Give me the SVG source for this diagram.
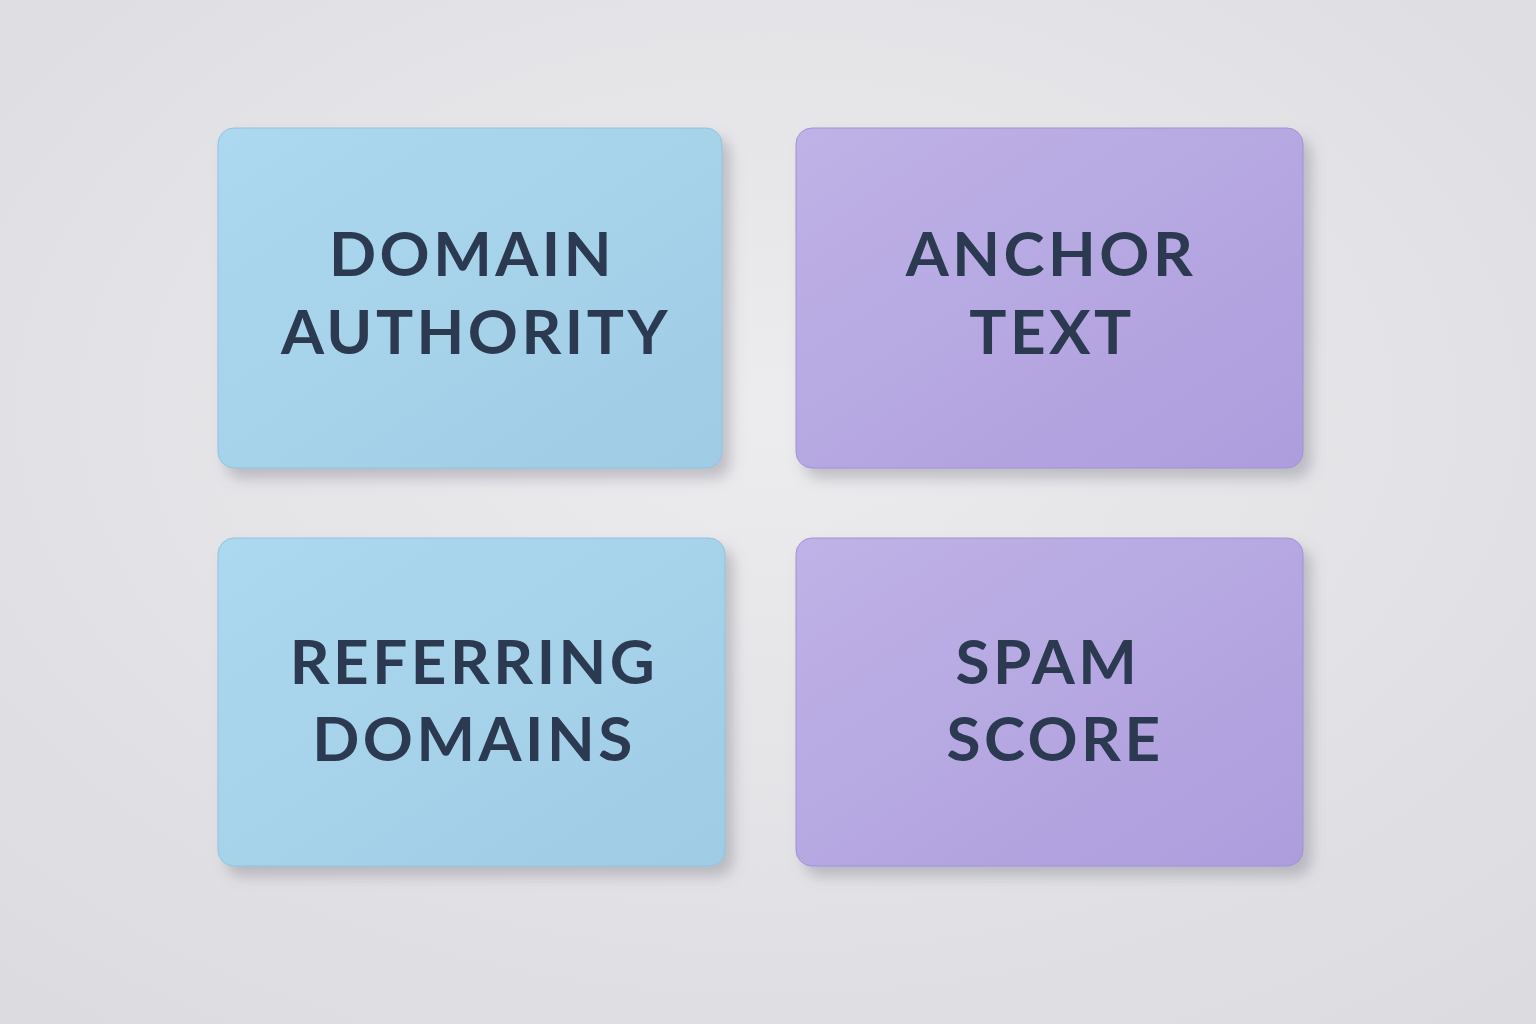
<svg xmlns="http://www.w3.org/2000/svg" width="1536" height="1024" viewBox="0 0 1536 1024">
<defs>
<radialGradient id="bg" cx="50%" cy="40%" r="75%"><stop offset="0" stop-color="#ececef"/><stop offset="1" stop-color="#dcdce0"/></radialGradient>
<linearGradient id="blue" x1="0" y1="0" x2="1" y2="1"><stop offset="0" stop-color="#acd9ef"/><stop offset="1" stop-color="#a0cbe5"/></linearGradient>
<linearGradient id="purple" x1="0" y1="0" x2="1" y2="1"><stop offset="0" stop-color="#bfb2e6"/><stop offset="1" stop-color="#ad9ddd"/></linearGradient>
<filter id="sh" x="-10%" y="-10%" width="130%" height="130%"><feDropShadow dx="8" dy="10" stdDeviation="7" flood-color="#6a6a78" flood-opacity="0.35"/></filter>
</defs>
<style>
.t{font-family:"Lato","Liberation Sans",sans-serif;font-weight:700;font-size:62px;fill:#2b3a50;text-anchor:middle;letter-spacing:3.5px}
.b{fill:url(#blue);filter:url(#sh);stroke:#8fc3df;stroke-width:1}
.p{fill:url(#purple);filter:url(#sh);stroke:#a292d6;stroke-width:1}
</style>
<rect width="1536" height="1024" fill="url(#bg)"/>
<g id="domain-authority"><rect class="b" x="218" y="128" width="504" height="340" rx="16"/><text class="t" x="472" y="276">DOMAIN</text><text class="t" x="476" y="354">AUTHORITY</text></g>
<g id="anchor-text"><rect class="p" x="796" y="128" width="507" height="340" rx="16"/><text class="t" x="1051" y="276">ANCHOR</text><text class="t" x="1052" y="354">TEXT</text></g>
<g id="referring-domains"><rect class="b" x="218" y="538" width="507" height="328" rx="16"/><text class="t" x="474" y="684">REFERRING</text><text class="t" x="474" y="761">DOMAINS</text></g>
<g id="spam-score"><rect class="p" x="796" y="538" width="507" height="328" rx="16"/><text class="t" x="1048" y="684">SPAM</text><text class="t" x="1055" y="761">SCORE</text></g>
<g id="connectors"/>
</svg>
